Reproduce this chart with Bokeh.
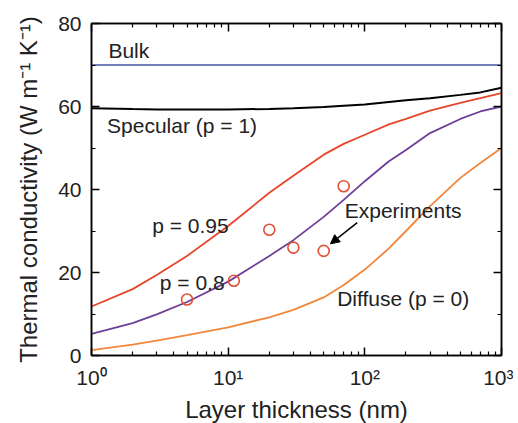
from bokeh.plotting import figure
from bokeh.models import (LogAxis, LinearAxis, Label, Arrow, NormalHead,
                          FixedTicker, Range1d)
from bokeh.embed import file_html
from bokeh.resources import INLINE

# ---- data ----
thickness = [1, 2, 3, 5, 10, 20, 30, 50, 70, 100, 150, 200, 300, 500, 700, 1000]
specular = [59.6, 59.4, 59.3, 59.3, 59.3, 59.4, 59.6, 59.9, 60.2, 60.5, 61.1, 61.5, 62.0, 62.8, 63.4, 64.5]
p095 = [11.8, 16.0, 19.4, 24.0, 31.2, 39.2, 43.3, 48.4, 51.0, 53.2, 55.7, 57.0, 59.0, 60.9, 62.0, 63.2]
p08 = [5.2, 7.8, 9.9, 12.9, 17.8, 24.0, 27.8, 33.4, 37.5, 42.0, 46.8, 49.5, 53.6, 57.0, 58.8, 60.0]
diffuse = [1.3, 2.6, 3.6, 4.9, 6.8, 9.2, 11.0, 14.0, 17.0, 20.7, 25.8, 30.0, 36.0, 42.8, 46.4, 50.0]
bulk_x = [1, 1000]
bulk_y = [70, 70]
exp_x = [5, 11, 20, 30, 50, 70]
exp_y = [13.5, 18.0, 30.3, 26.0, 25.2, 40.8]

x_ticks = [1, 10, 100, 1000]
x_tick_labels = {1: "10\u2070", 10: "10\u00b9", 100: "10\u00b2", 1000: "10\u00b3"}
y_ticks = [0, 20, 40, 60, 80]
y_minor = [10, 30, 50, 70]
x_minor = [m * d for d in (1, 10, 100) for m in range(2, 10)]

FONT = "Liberation Sans"

p = figure(x_axis_type="log", x_range=Range1d(1, 1000), y_range=Range1d(0, 80),
           frame_width=410, frame_height=332,
           min_border_left=91, min_border_top=23, min_border_right=12, min_border_bottom=50,
           output_backend="svg", toolbar_location=None)
p.grid.visible = False
p.outline_line_color = "black"
p.outline_line_width = 1.5
p.background_fill_color = "white"
p.border_fill_color = "white"

def style(ax, labels=True):
    ax.axis_line_color = "black"
    ax.axis_line_width = 1.5
    ax.major_tick_in = 8
    ax.major_tick_out = 0
    ax.minor_tick_in = 4
    ax.minor_tick_out = 0
    ax.major_tick_line_color = "black"
    ax.minor_tick_line_color = "black"
    ax.major_tick_line_width = 1.5
    ax.minor_tick_line_width = 1.2
    if labels:
        ax.major_label_text_font = FONT
        ax.major_label_text_font_size = "21px"
        ax.major_label_text_color = "#222222"
        ax.axis_label_text_font = FONT
        ax.axis_label_text_font_size = "24px"
        ax.axis_label_text_font_style = "normal"
        ax.axis_label_text_color = "#222222"
    else:
        ax.major_label_text_font_size = "1px"
        ax.major_label_text_alpha = 0
        ax.major_label_standoff = 0

xt = FixedTicker(ticks=x_ticks, minor_ticks=x_minor)
yt = FixedTicker(ticks=y_ticks, minor_ticks=y_minor)

p.xaxis.ticker = xt
p.xaxis.major_label_overrides = x_tick_labels
p.xaxis.axis_label = "Layer thickness (nm)"
p.xaxis.major_label_standoff = 10
p.xaxis.axis_label_standoff = 4
style(p.xaxis[0])

p.yaxis.ticker = yt
p.yaxis.axis_label = "Thermal conductivity (W m\u207b\u00b9 K\u207b\u00b9)"
p.yaxis.major_label_standoff = 10
p.yaxis.axis_label_standoff = 13
style(p.yaxis[0])

top = LogAxis(ticker=xt)
style(top, labels=False)
p.add_layout(top, "above")
right = LinearAxis(ticker=yt)
style(right, labels=False)
p.add_layout(right, "right")

# ---- lines ----
p.line(bulk_x, bulk_y, line_color="#4457a3", line_width=1.5)
p.line(thickness, specular, line_color="black", line_width=2)
p.line(thickness, p095, line_color="#e8452c", line_width=1.8)
p.line(thickness, p08, line_color="#6e3f98", line_width=1.8)
p.line(thickness, diffuse, line_color="#f0873a", line_width=1.8)

p.scatter(exp_x, exp_y, marker="circle", size=11, fill_color=None,
          line_color="#e05238", line_width=1.6)

p.add_layout(Arrow(end=NormalHead(size=9, fill_color="black", line_color="black"),
                   x_start=88, y_start=32.0, x_end=56, y_end=26.9,
                   line_color="black", line_width=1.5))

labels = [
    ("Bulk", 1.33, 73.5),
    ("Specular (p = 1)", 1.30, 55.4),
    ("p = 0.95", 2.78, 31.3),
    ("p = 0.8", 3.16, 17.7),
    ("Experiments", 71.3, 34.9),
    ("Diffuse (p = 0)", 62.7, 13.7),
]
for t, x, y in labels:
    p.add_layout(Label(x=x, y=y, text=t, text_font=FONT, text_font_size="21px",
                       text_baseline="middle", text_align="left", text_color="#222222"))

open("out.html", "w").write(file_html(p, INLINE))
